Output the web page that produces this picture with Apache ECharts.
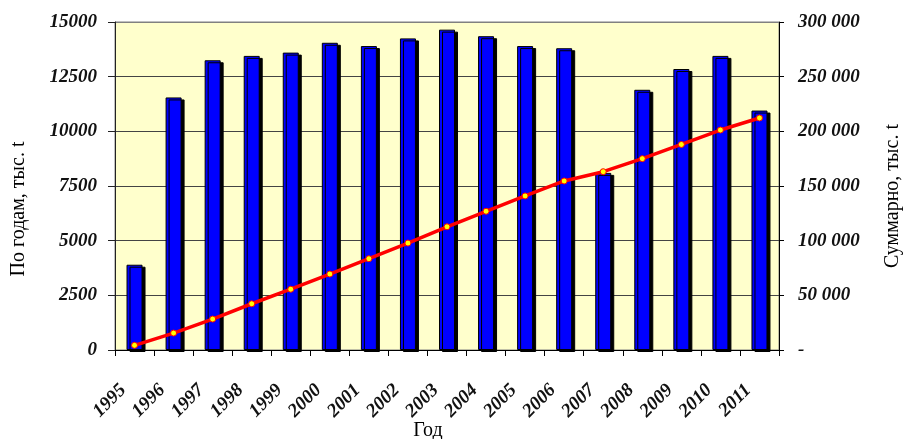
<!DOCTYPE html>
<html>
<head>
<meta charset="utf-8">
<script src="https://cdn.jsdelivr.net/npm/echarts@6/dist/echarts.min.js"></script>
<style>html,body{margin:0;padding:0;background:#fff}#c{width:903px;height:439px}</style>
</head>
<body>
<div id="c"></div>
<script>
const years = ['1995','1996','1997','1998','1999','2000','2001','2002','2003','2004','2005','2006','2007','2008','2009','2010','2011'];
const perYear = [3900,11550,13250,13450,13600,14050,13900,14250,14650,14350,13900,13800,8100,11900,12850,13450,10950];
const cumulative = [4300,15500,28300,42300,55600,69500,83500,97800,112700,126900,140900,154600,163100,175000,188000,201200,212200];
const leftTicks = {min:0, max:15000, interval:2500};
const rightTicks = {min:0, max:300000, interval:50000};
const leftName = 'По годам, тыс. t';
const rightName = 'Суммарно, тыс. t';
const xName = 'Год';

const chart = echarts.init(document.getElementById('c'));
const labelFont = {fontFamily:'Liberation Serif', fontWeight:'bold', fontStyle:'italic', color:'#111'};
chart.setOption({
  animation:false,
  grid:{left:115, right:124, top:22, bottom:89, show:true, backgroundColor:'#ffffcc', borderColor:'#808080', borderWidth:1},
  xAxis:{
    type:'category', data:years, boundaryGap:true,
    axisLine:{lineStyle:{color:'#000', width:1}},
    axisTick:{show:true, length:6, lineStyle:{color:'#000'}},
    axisLabel:Object.assign({rotate:45, fontSize:19, margin:26, interval:0, padding:[0,16,0,0]}, labelFont)
  },
  yAxis:[{
    type:'value', min:leftTicks.min, max:leftTicks.max, interval:leftTicks.interval,
    axisLine:{show:true, lineStyle:{color:'#222'}},
    axisTick:{show:true, length:7, lineStyle:{color:'#222'}},
    splitLine:{show:true, lineStyle:{color:['#444','#444','#444','#444','#444','#444','#808080'], width:1}},
    axisLabel:Object.assign({fontSize:19, margin:18, formatter: v => String(v)}, labelFont)
  },{
    type:'value', min:rightTicks.min, max:rightTicks.max, interval:rightTicks.interval,
    position:'right',
    axisLine:{show:true, lineStyle:{color:'#000'}},
    axisTick:{show:true, length:5, lineStyle:{color:'#000'}},
    splitLine:{show:false},
    axisLabel:Object.assign({fontSize:19, margin:19,
      formatter: v => v === 0 ? '-' : String(v).replace(/\B(?=(\d{3})+(?!\d))/g,' ')}, labelFont)
  }],
  graphic:[
    {type:'text', x:19, y:209, rotation:Math.PI/2, style:{text:leftName, font:'20px "Liberation Serif"', fill:'#000', textAlign:'center', textVerticalAlign:'middle'}},
    {type:'text', x:893, y:196, rotation:Math.PI/2, style:{text:rightName, font:'20px "Liberation Serif"', fill:'#000', textAlign:'center', textVerticalAlign:'middle'}},
    {type:'text', x:428, y:431, style:{text:xName, font:'20px "Liberation Serif"', fill:'#000', textAlign:'center', textVerticalAlign:'middle'}}
  ],
  series:[{
    type:'bar', data:perYear, yAxisIndex:0, barWidth:16,
    itemStyle:{color:'#0000ff', borderColor:'#000', borderWidth:1, shadowColor:'#000', shadowOffsetX:3, shadowOffsetY:2, shadowBlur:0}
  },{
    type:'line', data:cumulative, yAxisIndex:1, z:5,
    lineStyle:{color:'#ff0000', width:3.5},
    symbol:'circle', symbolSize:6,
    itemStyle:{color:'#ffff00', borderColor:'#ff0000', borderWidth:1}
  }]
});
</script>
</body>
</html>
